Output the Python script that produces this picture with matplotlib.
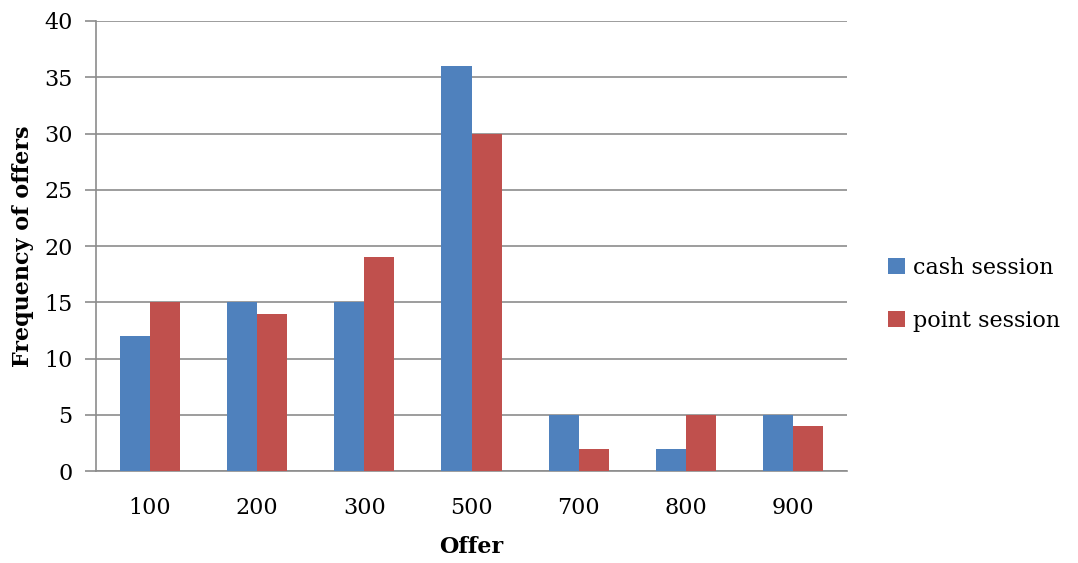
import numpy as np
import matplotlib.pyplot as plt

offers = ["100", "200", "300", "500", "700", "800", "900"]
cash_session = [12, 15, 15, 36, 5, 2, 5]
point_session = [15, 14, 19, 30, 2, 5, 4]

plt.rcParams["font.family"] = ["DejaVu Serif"]

fig = plt.figure(figsize=(10.78, 5.63), dpi=100)
ax = fig.add_axes([0.0891, 0.1634, 0.6966, 0.7993])

x = np.arange(len(offers))
w = 0.28
ax.bar(x - w / 2, cash_session, w, color="#4F81BD", label="cash session", zorder=3)
ax.bar(x + w / 2, point_session, w, color="#C0504D", label="point session", zorder=3)

ax.set_xlim(-0.5, len(offers) - 0.5)
ax.set_ylim(0, 40)
ax.set_yticks(range(0, 41, 5))
ax.set_xticks(x)
ax.set_xticklabels(offers)

grid_c = "#8C8C8C"
ax.yaxis.grid(True, color=grid_c, linewidth=1.2, zorder=0)
for side in ["top", "right"]:
    ax.spines[side].set_visible(False)
for side in ["left", "bottom"]:
    ax.spines[side].set_color(grid_c)
    ax.spines[side].set_linewidth(1.2)
ax.tick_params(axis="y", length=8, width=1.2, color=grid_c, labelsize=16, pad=9)
ax.tick_params(axis="x", length=0, labelsize=16, pad=19)

ax.set_xlabel("Offer", fontsize=16, fontweight="bold", labelpad=12)
ax.set_ylabel("Frequency of offers", fontsize=16, fontweight="bold", labelpad=7)

ax.legend(loc="center left", bbox_to_anchor=(1.055, 0.393), frameon=False,
          fontsize=16, handlelength=0.75, handleheight=0.75, handletextpad=0.35,
          labelspacing=1.4, borderpad=0, borderaxespad=0)

fig.savefig("out.png", dpi=100)
